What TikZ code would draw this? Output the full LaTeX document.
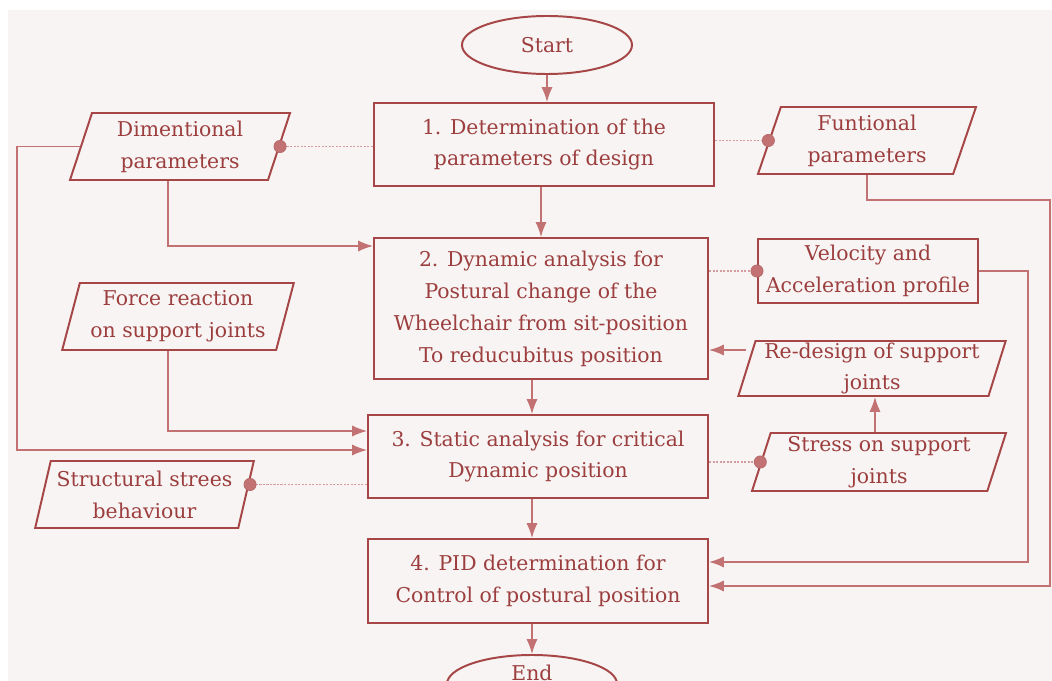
\documentclass[tikz,border=0pt]{standalone}
\usepackage{tikz}
\usepackage{xcolor}
\usepackage{fontspec}
\setmainfont{DejaVu Serif}
\usetikzlibrary{arrows.meta,shapes.geometric}
\definecolor{boxred}{HTML}{A64646}
\definecolor{textred}{HTML}{9C3E3E}
\definecolor{linered}{HTML}{C27272}
\definecolor{dotred}{HTML}{D49C9C}
\definecolor{paper}{HTML}{F8F4F4}

\begin{document}
\begin{tikzpicture}[x=0.025cm, y=-0.025cm,
  every node/.style={font=\fontsize{14.5}{22.7}\selectfont, text=textred, align=center},
  stepbox/.style={rectangle, draw=boxred, line width=1.4pt, fill=paper},
  databox/.style={trapezium, trapezium left angle=73, trapezium right angle=107,
    trapezium stretches=true, draw=boxred, line width=1.4pt, inner sep=0pt, minimum height=1.675cm},
  termbox/.style={ellipse, draw=boxred, line width=1.4pt, minimum width=4.25cm, minimum height=1.45cm},
  arr/.style={draw=linered, line width=1pt, -{Latex[scale=1.4]}},
  dotline/.style={draw=dotred, line width=1pt, dash pattern=on 1.5pt off 1pt},
  joint/.style={draw=boxred!80, fill=linered, line width=0.6pt}]
\clip (0,0) rectangle (1052,681);
\fill[paper] (8,10) rectangle (1052,681);
% main steps
\node[termbox] (start) at (547,45) {Start};
\node[stepbox, minimum width=8.5cm, minimum height=2.075cm] (step1) at (544,144.5) {1. Determination of the\\parameters of design};
\node[stepbox, minimum width=8.35cm, minimum height=3.525cm] (step2) at (541,308.5) {2. Dynamic analysis for\\Postural change of the\\Wheelchair from sit-position\\To reducubitus position};
\node[stepbox, minimum width=8.5cm, minimum height=2.075cm] (step3) at (538,456.5) {3. Static analysis for critical\\Dynamic position};
\node[stepbox, minimum width=8.5cm, minimum height=2.1cm] (step4) at (538,581) {4. PID determination for\\Control of postural position};
\node[termbox, inner sep=0pt] (finish) at (532,684) {\raisebox{16pt}{End}};
% inputs and outputs
\node[databox, minimum width=5.5cm] (dimpar) at (180,146.5) {Dimentional\\parameters};
\node[databox, minimum width=5.45cm] (funpar) at (867,140.5) {Funtional\\parameters};
\node[databox, minimum width=5.8cm] (force) at (178,316.5) {Force reaction\\on support joints};
\node[databox, minimum width=5.475cm] (strucst) at (144.5,494.5) {Structural strees\\behaviour};
\node[databox, minimum width=6.7cm, minimum height=1.375cm] (redesign) at (872,368.5) {Re-design of support\\joints};
\node[databox, minimum width=6.35cm, minimum height=1.45cm] (stress) at (879,462) {Stress on support\\joints};
\node[stepbox, minimum width=5.5cm, minimum height=1.6cm] (velo) at (868,271) {Velocity and\\Acceleration profile};
% flow
\draw[arr] (start.south) -- (start.south |- step1.north);
\draw[arr] (step1.south -| step2.north) -- (step2.north);
\draw[arr] (step2.south -| finish) -- (step3.north -| finish);
\draw[arr] (step3.south -| finish) -- (step4.north -| finish);
\draw[arr] (step4.south -| finish) -- (finish.north);
\draw[arr] (dimpar.south -| 168,0) |- (step2.west |- 0,246);
\draw[arr] (dimpar.west) -| (17,450) -- (step3.west |- 0,450);
\draw[arr] (force.south -| 168,0) |- (step3.west |- 0,431);
\draw[arr] (funpar.south) |- (1050,200) |- (step4.east |- 0,586);
\draw[arr] (velo.east) -| (1028,562) -- (step4.east |- 0,562);
\draw[arr] (redesign.west |- 0,350) -- (step2.east |- 0,350);
\draw[arr] (stress.north -| 875,0) -- (redesign.south -| 875,0);
% joints
\coordinate (sjoint) at ([shift={(3,-10)}]strucst.east);
\draw[dotline] (step1.west |- dimpar.east) -- (dimpar.east);
\draw[dotline] (step1.east |- funpar.west) -- (funpar.west);
\draw[dotline] (step2.east |- velo.west) -- (velo.west);
\draw[dotline] (step3.east |- stress.west) -- (stress.west);
\draw[dotline] (step3.west |- sjoint) -- (sjoint);
\filldraw[joint] (dimpar.east) circle (4.3pt);
\filldraw[joint] (funpar.west) circle (4.3pt);
\filldraw[joint] (velo.west) circle (4.3pt);
\filldraw[joint] (stress.west) circle (4.3pt);
\filldraw[joint] (sjoint) circle (4.3pt);
\end{tikzpicture}
\end{document}
